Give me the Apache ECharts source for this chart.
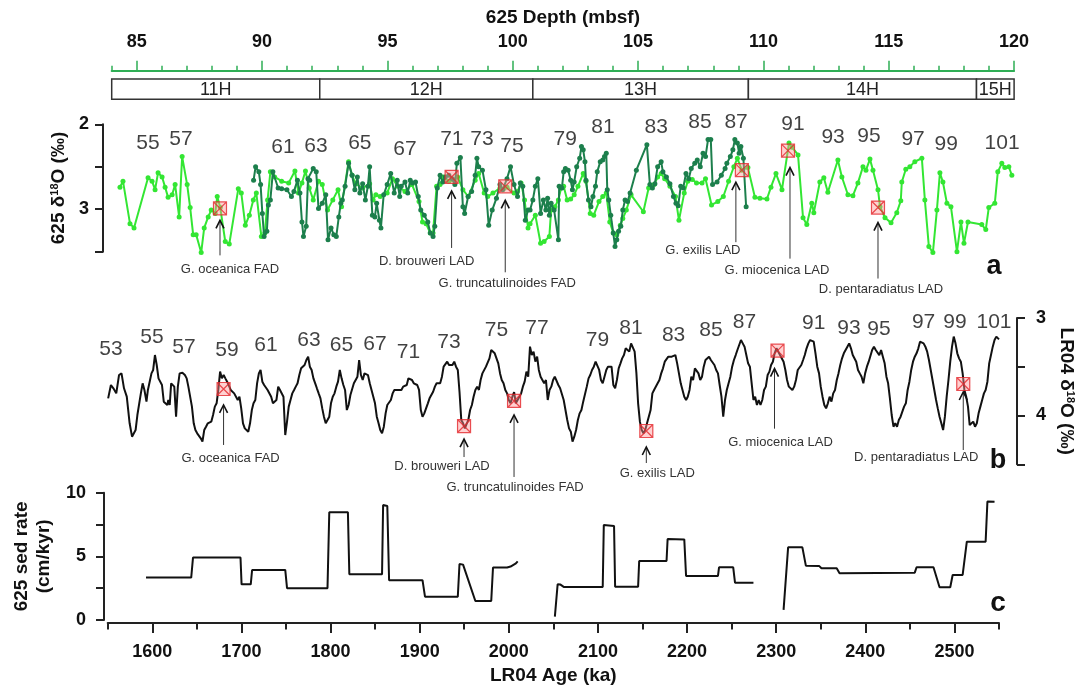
<!DOCTYPE html>
<html>
<head>
<meta charset="utf-8">
<title>625 depth / LR04 age</title>
<script src="https://cdn.jsdelivr.net/npm/echarts@6/dist/echarts.min.js"></script>
<style>
html, body { margin: 0; padding: 0; background: #fff; }
#chart { width: 1086px; height: 691px; }
</style>
</head>
<body>
<div id="chart"></div>
<script>
// ---- data ----
// core sections (depth, mbsf)
const coreStart = [84, 92.3, 100.8, 109.4, 118.5];
const coreEnd   = [92.3, 100.8, 109.4, 118.5, 120];
const coreName  = ['11H', '12H', '13H', '14H', '15H'];

// 625 d18O, light green record [depth, d18O]
const d18oLight = [
  [84.33,2.74],[84.45,2.67],[84.73,3.17],[84.89,3.22],[85.45,2.63],[85.61,2.67],[85.73,2.77],[85.85,2.57],
  [86.01,2.62],[86.13,2.74],[86.25,2.86],[86.41,2.83],[86.53,2.71],[86.69,3.09],[86.81,2.38],[87.01,2.71],
  [87.13,2.98],[87.25,3.30],[87.37,3.30],[87.57,3.51],[87.69,3.22],[87.85,3.09],[87.97,3.01],[88.13,3.05],
  [88.21,2.85],[88.33,2.98],[88.53,3.38],[88.69,3.41],[89.05,2.76],[89.17,2.81],[89.33,3.19],[89.49,3.07],
  [89.65,2.89],[89.77,2.81],
  [89.97,3.32],[90.11,3.28],[90.22,2.89],[90.33,2.56],[90.50,2.62],[90.78,2.67],[91.06,2.69],[91.31,2.55],
  [91.45,2.81],[91.59,2.69],[91.73,2.55],[91.88,2.75],[92.04,2.89],[92.25,2.67],[92.40,2.71],[92.61,3.01],
  [92.82,2.89],[93.03,2.77],[93.17,2.97],[93.45,2.44],[93.59,2.60],[93.73,2.70],[94.01,2.75],[94.29,2.70],
  [94.43,2.89],[94.54,2.83],[94.71,2.85],[94.99,2.81],[95.20,2.64],[95.42,2.73],[95.70,2.79],[95.98,2.71],
  [96.26,2.91],[96.40,3.15],[96.54,3.17],[96.71,3.28],[96.82,3.28],[96.96,2.73],[97.10,2.71],[97.24,2.62],
  [97.45,2.67],[97.66,2.66],[97.80,2.62],[98.01,2.77],[98.22,2.85],[98.50,2.66],[98.64,2.58],[98.86,2.81],
  [99.00,2.85],[99.21,2.81],[99.49,2.75],[99.63,2.76],[99.77,2.74],[100.05,2.81],[100.19,2.79],[100.33,2.69],
  [100.47,2.89],[100.61,3.22],
  [100.69,3.17],[100.90,3.07],[101.11,3.40],[101.25,3.38],[101.46,3.32],[101.53,3.01],[101.68,2.97],[101.82,2.89],
  [101.93,2.75],[102.03,2.73],[102.17,2.89],[102.31,2.88],[102.45,2.83],[102.60,2.73],[102.81,2.58],[102.92,2.67],
  [103.09,3.05],[103.23,3.07],[103.44,2.91],[103.59,2.85],[103.73,2.81],[103.87,3.15],[104.01,3.28],[104.15,3.30],
  [104.29,3.19],[104.39,3.11],[104.53,3.01],[104.72,2.83],[105.21,3.03],[105.42,2.75],[105.64,2.71],[105.78,2.62],
  [105.92,2.58],[106.06,2.64],[106.27,2.73],[106.49,2.85],[106.63,3.13],[106.84,2.81],[106.98,2.67],[107.16,2.65],
  [107.33,2.69],[107.55,2.69],[107.69,2.64],[107.93,2.95],[108.18,2.91],[108.40,2.85],[108.61,2.67],[108.82,2.50],
  [108.96,2.40],
  [109.14,2.54],[109.38,2.51],[109.66,2.86],[109.86,2.87],[110.14,2.88],[110.30,2.74],[110.50,2.58],[110.74,2.77],
  [111.02,2.22],[111.14,2.27],[111.38,2.36],[111.58,3.10],[111.73,3.18],[111.93,2.93],[112.01,3.04],[112.25,2.68],
  [112.41,2.63],[112.57,2.80],[112.97,2.42],[113.13,2.62],[113.37,2.83],[113.57,2.84],[113.77,2.69],[113.97,2.50],
  [114.09,2.54],[114.25,2.41],[114.37,2.54],[114.57,2.77],[114.65,2.97],[114.85,3.10],[115.09,3.16],[115.32,3.04],
  [115.48,2.90],[115.52,2.68],[115.68,2.53],[115.84,2.50],[116.04,2.44],[116.32,2.40],[116.44,2.89],[116.60,3.44],
  [116.76,3.51],[116.92,3.01],[117.04,2.57],[117.16,2.68],[117.32,2.93],[117.48,2.97],[117.72,3.50],[117.88,3.15],
  [118.00,3.40],[118.16,3.15],[118.71,3.18],[118.87,3.24],[118.99,2.98],[119.23,2.93],[119.35,2.56],[119.51,2.46],
  [119.63,2.51],[119.79,2.50],[119.91,2.60]
];

// 625 d18O, dark green record [depth, d18O]
const d18oDark = [
  [89.66,2.66],[89.74,2.50],[89.87,2.56],[89.94,2.71],[90.01,3.05],[90.08,3.32],[90.19,3.26],[90.25,2.95],
  [90.33,2.89],[90.43,2.56],[90.64,2.75],[90.78,2.76],[90.99,2.77],[91.17,2.85],[91.27,2.79],[91.41,2.66],
  [91.51,2.81],[91.59,3.15],[91.65,3.32],[91.76,3.20],[91.83,2.64],[91.90,2.66],[92.04,2.52],[92.16,2.56],
  [92.25,2.99],[92.40,2.93],[92.54,2.83],[92.63,3.36],[92.75,3.22],[92.86,3.30],[92.96,3.32],[93.06,3.09],
  [93.14,2.93],[93.20,2.89],[93.31,2.73],[93.45,2.46],[93.59,2.60],[93.70,2.77],[93.80,2.62],[93.90,2.81],
  [94.01,2.70],[94.12,2.89],[94.22,2.73],[94.29,2.50],[94.40,3.07],[94.50,3.09],[94.57,2.93],[94.68,3.13],
  [94.74,3.22],[94.85,2.83],[94.99,2.71],[95.13,2.58],[95.27,2.81],[95.39,2.66],[95.49,2.85],[95.55,2.73],
  [95.70,2.68],[95.81,2.81],[95.91,2.66],[96.00,2.69],[96.12,2.68],[96.23,2.85],[96.33,3.01],[96.47,3.07],
  [96.61,3.15],[96.71,3.28],[96.82,3.32],[96.89,3.20],[96.99,2.75],[97.10,2.60],[97.21,2.68],[97.31,2.62],
  [97.45,2.60],[97.59,2.64],[97.69,2.71],[97.77,2.46],[97.91,2.39],[98.01,2.97],[98.08,3.05],[98.22,2.85],
  [98.36,2.79],[98.50,2.60],[98.57,2.40],[98.64,2.50],[98.79,2.54],[98.93,2.77],[99.04,3.19],[99.18,3.01],
  [99.35,2.87],[99.49,2.71],[99.60,2.77],[99.77,2.64],[99.91,2.50],[100.05,2.71],[100.19,2.85],[100.30,2.69],
  [100.40,2.73],[100.50,3.13],[100.61,3.01],
  [100.69,3.01],[100.80,2.89],[100.90,2.73],[101.00,2.64],[101.11,3.05],[101.22,2.89],[101.32,3.01],[101.39,2.87],
  [101.46,3.07],[101.53,2.93],[101.65,3.01],[101.82,3.36],[101.85,2.73],[101.96,2.75],[102.03,2.56],[102.10,2.52],
  [102.21,2.54],[102.31,2.66],[102.38,2.77],[102.45,2.68],[102.55,2.50],[102.67,2.40],[102.74,2.26],[102.81,2.30],
  [102.88,2.44],[102.92,2.66],[103.02,2.89],[103.12,2.97],[103.20,2.85],[103.30,2.73],[103.37,2.56],[103.49,2.44],
  [103.59,2.42],[103.66,2.38],[103.73,2.34],[103.77,2.77],[103.83,2.89],[103.91,3.07],[104.01,3.28],[104.08,3.44],
  [104.15,3.36],[104.22,3.26],[104.31,3.20],[104.39,3.01],[104.48,2.89],[104.58,2.91],[104.68,2.81],[104.93,2.54],
  [105.35,2.24],[105.47,2.71],[105.57,2.75],[105.67,2.70],[105.78,2.50],[105.92,2.44],[105.99,2.56],[106.13,2.62],
  [106.27,2.70],[106.41,2.85],[106.51,2.93],[106.60,2.96],[106.70,2.73],[106.80,2.75],[106.91,2.58],[107.02,2.64],
  [107.12,2.52],[107.26,2.46],[107.36,2.42],[107.48,2.50],[107.59,2.34],[107.69,2.38],[107.79,2.18],[107.90,2.18],
  [107.97,2.71],[108.15,2.68],[108.32,2.60],[108.47,2.52],[108.54,2.46],[108.68,2.38],[108.78,2.30],[108.86,2.18],
  [108.96,2.22],[109.03,2.34],[109.10,2.26],[109.20,2.40],[109.31,2.97]
];

// LR04 stack [age ka, d18O]
const lr04 = [
  [1550.5,3.824],[1553.6,3.687],[1556.4,3.721],[1559.6,3.773],[1562.7,3.585],[1565.5,3.568],[1568.3,3.721],[1571.4,3.807],
  [1574.6,4.080],[1577.3,4.217],[1579.3,4.234],[1581.3,4.149],[1583.3,3.995],[1585.2,3.978],[1587.2,3.773],[1589.2,3.670],
  [1591.2,3.738],[1593.5,3.858],[1595.1,3.738],[1597.1,3.653],[1599.1,3.568],[1601.0,3.533],[1603.0,3.380],[1605.0,3.482],
  [1607.0,3.619],[1608.9,3.636],[1610.9,3.687],[1612.9,3.858],[1614.9,3.841],[1616.9,3.892],[1618.0,3.841],[1619.6,3.892],
  [1621.2,3.670],[1622.8,3.653],[1624.7,3.704],[1626.7,4.012],[1628.7,3.704],[1630.7,3.568],[1633.8,3.561],[1636.6,3.585],
  [1638.6,3.619],[1640.5,3.704],[1642.5,3.807],[1644.5,3.909],[1646.5,4.080],[1648.4,4.149],[1650.4,4.183],[1652.4,4.166],
  [1654.4,4.234],[1656.3,4.268],[1658.3,4.149],[1660.3,4.115],[1662.3,4.080],[1664.2,4.098],[1666.2,4.063],[1668.2,3.995],
  [1670.2,3.909],[1672.2,3.875],[1674.1,3.738],[1676.1,3.550],[1678.1,3.619],[1680.1,3.585],[1682.0,3.619],[1684.0,3.653],
  [1686.0,3.670],[1688.0,3.738],[1689.9,3.721],[1691.9,3.773],[1693.9,3.790],[1695.9,3.841],[1697.8,3.807],[1699.8,3.927],
  [1701.8,4.080],[1703.8,4.132],[1705.7,4.115],[1707.7,4.166],[1709.7,4.080],[1711.7,3.944],[1713.6,3.875],[1715.6,3.841],
  [1717.6,3.670],[1719.6,3.568],[1721.5,3.533],[1723.5,3.653],[1725.5,3.687],[1727.5,3.704],[1729.4,3.738],[1731.4,3.721],
  [1733.4,3.807],[1735.4,3.875],[1737.3,3.892],[1739.3,3.841],[1741.3,3.704],[1743.3,3.738],[1745.2,3.738],[1747.2,3.807],
  [1749.2,4.200],[1751.2,4.063],[1753.1,3.909],[1755.1,3.841],[1757.1,3.773],[1759.1,3.738],[1761.0,3.704],[1763.0,3.670],
  [1765.0,3.585],[1767.0,3.516],[1768.9,3.516],[1770.9,3.482],[1772.9,3.431],[1774.9,3.397],[1776.8,3.499],[1778.8,3.533],
  [1780.8,3.619],[1782.8,3.670],[1784.7,3.721],[1786.7,3.773],[1788.7,3.824],[1790.7,3.927],[1792.6,4.012],[1794.6,4.080],
  [1796.6,4.098],[1798.6,4.012],[1800.5,3.875],[1802.5,3.807],[1804.5,3.773],[1806.5,3.704],[1808.4,3.653],[1810.4,3.533],
  [1812.4,3.619],[1814.4,3.687],[1816.3,3.738],[1818.3,3.944],[1820.3,3.892],[1822.3,3.790],[1824.2,3.773],[1826.2,3.670],
  [1828.2,3.653],[1830.2,3.602],[1832.1,3.431],[1834.1,3.585],[1836.1,3.636],[1838.1,3.568],[1840.0,3.568],[1842.0,3.585],
  [1844.0,3.670],[1846.0,3.738],[1847.9,3.756],[1849.9,3.875],[1851.9,4.012],[1853.9,4.080],[1855.8,4.149],[1857.8,4.183],
  [1859.8,4.115],[1861.8,3.978],[1863.7,3.892],[1865.7,3.892],[1867.7,3.841],[1869.7,3.773],[1871.6,3.738],[1873.6,3.756],
  [1875.6,3.738],[1877.6,3.721],[1879.5,3.738],[1881.5,3.704],[1883.5,3.704],[1885.5,3.687],[1887.4,3.619],[1889.4,3.602],
  [1891.4,3.636],[1893.4,3.670],[1895.3,3.653],[1897.3,3.687],[1899.3,3.738],[1901.3,3.944],[1903.2,4.012],[1905.2,3.978],
  [1907.2,3.995],[1909.2,3.875],[1911.1,3.824],[1913.1,3.807],[1915.1,3.756],[1917.1,3.704],[1919.0,3.670],[1921.0,3.653],
  [1923.0,3.670],[1925.0,3.602],[1926.9,3.499],[1928.9,3.482],[1930.9,3.448],[1932.9,3.482],[1934.9,3.465],[1936.8,3.482],
  [1938.8,3.448],[1940.8,3.499],[1942.8,3.533],[1944.7,3.756],[1946.7,4.046],[1948.7,4.080],[1950.7,4.132],[1952.6,4.115],
  [1954.6,4.046],[1956.6,3.944],[1958.6,3.892],[1960.5,3.807],[1962.5,3.738],[1964.5,3.704],[1966.5,3.738],[1968.4,3.636],
  [1970.4,3.568],[1972.4,3.550],[1974.4,3.499],[1976.3,3.499],[1978.3,3.414],[1980.3,3.328],[1982.3,3.345],[1984.2,3.362],
  [1986.2,3.380],[1988.2,3.465],[1990.2,3.568],[1992.1,3.636],[1994.1,3.670],[1996.1,3.738],[1998.1,3.773],[2000.0,3.841],
  [2002.0,3.875],[2004.0,3.807],[2006.0,3.760],[2007.9,3.875],[2009.9,3.841],[2011.9,3.807],[2013.9,3.773],[2015.8,3.704],
  [2017.8,3.653],[2019.8,3.550],[2021.8,3.602],
  [2023.8,3.294],[2025.8,3.380],[2027.8,3.345],[2029.8,3.448],[2031.8,3.397],[2033.7,3.533],[2035.7,3.602],[2037.7,3.619],
  [2039.7,3.670],[2041.7,3.636],[2043.7,3.841],[2045.7,3.738],[2047.7,3.704],[2049.7,3.636],[2051.6,3.602],[2053.6,3.619],
  [2055.6,3.687],[2057.6,3.721],[2059.6,3.738],[2061.6,3.841],[2063.6,3.944],[2065.6,4.046],[2067.6,4.132],[2069.6,4.166],
  [2071.5,4.268],[2073.5,4.217],[2075.5,4.149],[2077.5,4.046],[2079.5,3.978],[2081.5,3.944],[2083.5,3.858],[2085.5,3.841],
  [2087.5,3.704],[2089.5,3.619],[2091.4,3.585],[2093.4,3.533],[2095.4,3.499],[2097.4,3.448],[2099.4,3.431],[2101.4,3.533],
  [2103.4,3.636],[2105.4,3.670],[2107.4,3.653],[2109.4,3.533],[2111.3,3.499],[2113.3,3.516],[2115.3,3.499],[2117.3,3.687],
  [2119.3,3.721],[2121.3,3.636],[2123.3,3.516],[2125.3,3.465],[2127.2,3.414],[2129.2,3.380],[2131.2,3.311],[2133.2,3.328],
  [2135.2,3.345],[2137.2,3.260],[2139.2,3.243],[2141.2,3.345],[2143.2,3.568],[2145.1,3.875],[2147.1,4.063],[2149.1,4.149],
  [2151.1,4.183],[2153.1,4.149],[2155.1,4.080],[2157.1,4.098],[2159.1,3.944],[2161.1,3.773],[2163.0,3.738],[2165.0,3.721],
  [2167.0,3.670],[2169.0,3.636],[2171.0,3.568],[2173.0,3.516],[2175.0,3.448],[2177.0,3.431],[2179.0,3.397],[2180.9,3.380],
  [2182.9,3.397],[2184.9,3.397],[2186.9,3.380],[2188.9,3.465],[2190.9,3.568],[2192.9,3.670],[2194.9,3.738],[2196.9,3.807],
  [2198.9,3.841],[2200.8,3.807],[2202.8,3.738],[2204.8,3.602],[2206.8,3.636],[2208.8,3.516],[2210.8,3.533],[2212.8,3.568],
  [2214.8,3.636],[2216.8,3.602],[2218.7,3.499],[2220.7,3.431],[2222.7,3.414],[2224.7,3.397],[2226.7,3.431],[2228.7,3.448],
  [2230.7,3.482],[2232.7,3.533],[2234.7,3.568],[2236.6,3.687],[2238.6,3.807],[2240.6,4.012],[2242.6,3.841],[2244.6,3.738],
  [2246.6,3.670],[2248.6,3.602],[2250.6,3.499],[2252.6,3.431],[2254.6,3.380],[2256.5,3.328],[2258.5,3.277],[2260.5,3.226],
  [2262.5,3.260],[2264.5,3.294],[2266.5,3.380],[2268.5,3.465],[2270.5,3.499],[2272.5,3.670],[2274.5,3.841],[2276.4,3.807],
  [2278.4,3.892],[2280.4,3.841],[2282.4,3.892],[2284.4,3.841],[2286.4,3.738],[2288.4,3.704],[2290.4,3.585],[2292.4,3.550],
  [2294.3,3.482],[2296.3,3.448],[2298.3,3.362],[2300.3,3.311],[2302.3,3.328],[2304.3,3.380],[2306.3,3.397],[2308.3,3.448],
  [2310.3,3.533],[2312.2,3.636],[2314.2,3.704],[2316.2,3.721],[2318.2,3.738],[2320.2,3.704],[2322.2,3.636],[2324.2,3.533],
  [2326.2,3.533],[2328.2,3.482],[2330.2,3.431],[2332.1,3.380],[2334.1,3.311],[2336.1,3.260],[2338.1,3.226],[2340.1,3.243],
  [2342.1,3.243],[2344.1,3.362],[2346.1,3.499],[2348.1,3.568],[2350.0,3.704],[2352.0,3.807],[2354.0,3.892],[2356.0,3.927],
  [2358.0,3.875],[2360.0,3.807],[2362.0,3.858],[2364.0,3.773],[2366.0,3.738],[2368.0,3.636],[2369.9,3.568],[2371.9,3.482],
  [2373.9,3.414],[2375.9,3.362],[2377.9,3.345],[2379.9,3.294],[2381.9,3.260],[2383.9,3.311],[2385.9,3.380],[2387.8,3.380],
  [2389.8,3.448],[2391.8,3.533],[2393.8,3.568],[2395.8,3.602],[2397.8,3.670],[2399.8,3.568],[2401.8,3.499],[2403.8,3.448],
  [2405.7,3.465],[2407.7,3.328],[2409.7,3.294],[2411.7,3.328],[2413.7,3.345],[2415.7,3.380],[2417.7,3.328],[2419.7,3.397],
  [2421.7,3.465],[2423.7,3.602],[2425.6,3.670],[2427.6,3.824],[2429.6,3.995],[2431.6,4.115],[2433.6,4.080],[2435.6,4.115],
  [2437.6,4.046],[2439.6,4.012],[2441.6,3.995],[2443.5,3.909],[2445.5,3.875],[2447.5,3.738],[2449.5,3.653],[2451.5,3.533],
  [2453.5,3.448],[2455.5,3.397],[2457.5,3.362],[2459.5,3.311],[2461.4,3.243],[2463.4,3.226],[2465.4,3.260],[2467.4,3.294],
  [2469.4,3.345],[2471.4,3.431],[2473.4,3.533],[2475.4,3.636],[2477.4,3.738],[2479.4,3.841],[2481.3,3.927],[2483.3,4.012],
  [2485.3,4.080],[2487.3,4.149],[2489.3,4.012],[2491.3,3.807],[2493.3,3.636],[2495.3,3.448],[2497.3,3.294],[2499.2,3.191],
  [2501.2,3.260],[2503.2,3.362],[2505.2,3.414],[2507.2,3.448],[2509.2,3.568],[2511.2,3.738],[2513.2,3.807],[2515.2,3.909],
  [2517.1,4.098],[2519.1,4.115],[2521.1,4.063],[2523.1,4.115],[2525.1,4.080],[2527.1,3.978],[2529.1,3.909],[2531.1,3.841],
  [2533.1,3.773],[2535.0,3.738],[2537.0,3.653],[2539.0,3.465],[2541.0,3.380],[2543.0,3.294],[2545.0,3.226],[2547.0,3.191],
  [2549.0,3.209],[2550.0,3.219]
];

// 625 sedimentation rate [age ka, cm/kyr]; null = gap
const sedRate = [
  [1593,3.33],[1643.7,3.33],[1645.7,4.9],[1699,4.9],[1700.2,2.8],[1710.5,2.8],[1712,3.93],[1749.2,3.93],
  [1751.2,2.5],[1796.6,2.5],[1798.6,8.46],[1819.5,8.46],[1821.1,3.6],[1857.8,3.6],[1859,9.03],[1863.7,8.95],
  [1865.7,3.13],[1903.2,3.13],[1906,1.83],[1942.8,1.83],[1944.7,4.4],[1948.7,4.35],[1962.5,1.49],[1980.3,1.49],
  [1982.3,4.12],[1998.1,4.12],[2002,4.2],[2008,4.45],[2010,4.6],
  [2030,null],
  [2051.7,0.26],[2054.8,2.8],[2058,2.78],[2061.6,2.6],[2105.4,2.6],[2106.6,7.46],[2118.1,7.38],[2119.3,2.62],
  [2145.1,2.62],[2146.3,4.63],[2177,4.63],[2178.2,6.36],[2196.9,6.33],[2198.9,3.46],[2234.7,3.46],[2235.9,4.14],
  [2251.8,4.14],[2253.8,2.93],[2274.5,2.93],
  [2290,null],
  [2308.3,0.79],[2313.4,5.71],[2329.4,5.71],[2333.3,4.27],[2348.1,4.25],[2350.8,4.06],[2367.9,4.06],[2371.1,3.67],
  [2455.5,3.72],[2457.5,4.14],[2476.5,4.14],[2483.3,2.57],[2495.3,2.57],[2498,3.54],[2509.2,3.54],[2513.9,6.15],
  [2535,6.15],[2537,9.3],[2545,9.28]
];

// marine isotope stage labels [x, d18O, stage]
const misA = [
  [85.45,2.22,55],[86.76,2.17,57],[90.83,2.27,61],[92.15,2.26,63],[93.90,2.22,65],[95.70,2.29,67],[97.57,2.17,71],
  [98.77,2.17,73],[99.97,2.26,75],[102.09,2.17,79],[103.60,2.04,81],[105.72,2.03,83],[107.47,1.98,85],[108.91,1.98,87],
  [111.18,2.00,91],[112.78,2.15,93],[114.21,2.14,95],[115.97,2.17,97],[117.29,2.24,99],[119.52,2.22,101]
];
const misB = [
  [1553.7,3.321,53],[1599.7,3.198,55],[1635.6,3.301,57],[1683.9,3.328,59],[1727.6,3.277,61],[1775.9,3.226,63],
  [1812.3,3.277,65],[1849.9,3.267,67],[1887.4,3.346,71],[1932.9,3.253,73],[1986.2,3.130,75],[2031.7,3.106,77],
  [2099.4,3.226,79],[2137.1,3.106,81],[2184.9,3.174,83],[2226.9,3.123,85],[2264.5,3.038,87],[2342.1,3.054,91],
  [2381.7,3.106,93],[2415.4,3.116,95],[2465.4,3.038,97],[2500.6,3.038,99],[2544.4,3.038,101]
];

// biostratigraphic datums
const eventName = ['G. oceanica FAD', 'D. brouweri LAD', 'G. truncatulinoides FAD',
                   'G. exilis LAD', 'G. miocenica LAD', 'D. pentaradiatus LAD'];
const eventsA = [[88.32,2.99],[97.56,2.62],[99.70,2.73],[109.14,2.54],[110.98,2.31],[114.57,2.98]];
const eventsB = [[1680.0,3.728],[1949.8,4.108],[2005.9,3.851],[2154.3,4.159],[2301.5,3.335],[2509.9,3.677]];

// tick label values
const depthTicks = [85, 90, 95, 100, 105, 110, 115, 120];
const ageTicks = [1600, 1700, 1800, 1900, 2000, 2100, 2200, 2300, 2400, 2500];

// ---- layout / style ----
const FONT = '"Liberation Sans", Arial, Helvetica, sans-serif';
const INK = '#111';
const GREEN_AXIS = '#2fae55';
// per datum: [arrow tip dy, arrow tail dy, label dx, label dy, arrow dx] in px from the box
const arrowA = [[12,47,10,61,0],[14,71,-25,84,0],[14,86,2,97,0],[12,72,-39,80,-6],[17,108,-11,120,2],[15,71,3,82,0]];
const arrowB = [[16,56,7,69,0],[13,31,-22,40,0],[14,76,1,86,0],[16,32,11,42,0],[18,78,3,92,-3],[8,66,-47,73,0]];
const BOX = 'path://M0,0H12V12H0Z M0,0L12,12 M12,0L0,12';

const chart = echarts.init(document.getElementById('chart'));

const tickLabel = { fontFamily: FONT, fontSize: 18, fontWeight: 'bold', color: INK };
const nameStyle = { fontFamily: FONT, fontSize: 19, fontWeight: 'bold', color: INK };
const blackLine = { lineStyle: { color: '#222', width: 2 } };
const plain = v => String(v);

function arrowRender(layout) {
  return function (params, api) {
    const c = api.coord([api.value(0), api.value(1)]);
    const L = layout[params.dataIndex];
    const x = c[0] + L[4];
    const yTip = c[1] + L[0];
    const yTail = c[1] + L[1];
    return {
      type: 'group',
      children: [
        { type: 'line', shape: { x1: x, y1: yTail, x2: x, y2: yTip + 1 }, style: { stroke: '#333', lineWidth: 1 } },
        { type: 'polyline', shape: { points: [[x - 4, yTip + 8], [x, yTip], [x + 4, yTip + 8]] },
          style: { stroke: '#111', lineWidth: 1.6, fill: null } },
        { type: 'text', style: { text: eventName[params.dataIndex], x: c[0] + L[2], y: c[1] + L[3],
          align: 'center', verticalAlign: 'middle', fontFamily: FONT, fontSize: 13, fill: '#333' } }
      ]
    };
  };
}

function misSeries(data, xi, yi) {
  return {
    type: 'scatter', xAxisIndex: xi, yAxisIndex: yi, data: data, clip: false,
    symbolSize: 1, itemStyle: { color: 'transparent' }, z: 5,
    label: { show: true, position: 'inside', formatter: p => String(p.data[2]),
      fontFamily: FONT, fontSize: 21, color: INK }
  };
}

function boxSeries(data, xi, yi) {
  return {
    type: 'scatter', xAxisIndex: xi, yAxisIndex: yi, data: data, clip: false, z: 6,
    symbol: BOX, symbolSize: 13,
    itemStyle: { color: 'rgba(255,150,150,0.55)', borderColor: '#e3262b', borderWidth: 1.2 }
  };
}

chart.setOption({
  animation: false,
  backgroundColor: '#fff',
  grid: [
    { left: 111.7, right: 71.9, top: 79, height: 20.3 },
    { left: 111.7, right: 71.9, top: 124.3, height: 127.4 },
    { left: 107.7, right: 87, top: 318, height: 146.25 },
    { left: 107.7, right: 87, top: 492.7, height: 127.3 }
  ],
  xAxis: [
    { // 625 depth, minor ticks + labels
      gridIndex: 0, type: 'value', position: 'top', offset: 8.3, min: 84, max: 120, interval: 1,
      axisLine: { onZero: false, lineStyle: { color: GREEN_AXIS, width: 2 } },
      axisTick: { length: 5, lineStyle: { color: GREEN_AXIS, width: 1.5 } },
      axisLabel: Object.assign({ margin: 20, customValues: depthTicks, formatter: plain }, tickLabel),
      splitLine: { show: false },
      name: '625 Depth (mbsf)', nameLocation: 'middle', nameGap: 43, nameTextStyle: nameStyle
    },
    { // 625 depth, major ticks
      gridIndex: 0, type: 'value', position: 'top', offset: 8.3, min: 84, max: 120,
      axisLine: { show: false, onZero: false },
      axisTick: { show: true, length: 10, customValues: depthTicks,
        lineStyle: { color: GREEN_AXIS, width: 1.5 } },
      axisLabel: { show: false }, splitLine: { show: false }
    },
    { gridIndex: 1, type: 'value', min: 84, max: 120, show: false },
    { gridIndex: 2, type: 'value', min: 1550, max: 2550, show: false },
    { // LR04 age
      gridIndex: 3, type: 'value', position: 'bottom', offset: 3, min: 1550, max: 2550, interval: 50,
      axisLine: { onZero: false, lineStyle: { color: '#222', width: 2 } },
      axisTick: { length: 6.5, lineStyle: { color: '#222', width: 2 } },
      axisLabel: Object.assign({ margin: 20, customValues: ageTicks, formatter: plain }, tickLabel),
      splitLine: { show: false },
      name: 'LR04 Age (ka)', nameLocation: 'middle', nameGap: 43, nameTextStyle: nameStyle
    },
    {
      gridIndex: 3, type: 'value', position: 'bottom', offset: 3, min: 1550, max: 2550,
      axisLine: { show: false, onZero: false },
      axisTick: { show: true, length: 10, customValues: ageTicks,
        lineStyle: { color: '#222', width: 2 } },
      axisLabel: { show: false }, splitLine: { show: false }
    }
  ],
  yAxis: [
    { gridIndex: 0, type: 'value', min: 0, max: 1, show: false },
    { // 625 d18O
      gridIndex: 1, type: 'value', position: 'left', offset: 8.7, min: 2, max: 3.5, interval: 0.5, inverse: true,
      axisLine: Object.assign({ show: true, onZero: false }, blackLine),
      axisTick: { show: true, length: 8, lineStyle: { color: '#222', width: 2 } },
      axisLabel: Object.assign({ margin: 14, formatter: v => (v === 2 || v === 3) ? String(v) : '' }, tickLabel),
      splitLine: { show: false },
      name: '625 {d|δ}{s|18}O (‰)', nameLocation: 'middle', nameGap: 30,
      nameTextStyle: Object.assign({}, nameStyle, { rich: {
        d: { fontFamily: FONT, fontSize: 19, color: INK },
        s: { fontFamily: FONT, fontSize: 11, color: INK, verticalAlign: 'top', lineHeight: 14 }
      } })
    },
    { // LR04 d18O
      gridIndex: 2, type: 'value', position: 'right', offset: 18, min: 3, max: 4.5, interval: 0.5, inverse: true,
      axisLine: Object.assign({ show: true, onZero: false }, blackLine),
      axisTick: { show: true, length: 8, lineStyle: { color: '#222', width: 2 } },
      axisLabel: Object.assign({ margin: 19, formatter: v => (v === 3 || v === 4) ? String(v) : '' }, tickLabel),
      splitLine: { show: false },
      name: 'LR04 {d|δ}{s|18}O (‰)', nameLocation: 'middle', nameGap: 34, nameRotate: -90,
      nameTextStyle: Object.assign({}, nameStyle, { rich: {
        d: { fontFamily: FONT, fontSize: 19, color: INK },
        s: { fontFamily: FONT, fontSize: 11, color: INK, verticalAlign: 'top', lineHeight: 14 }
      } })
    },
    { // sed rate
      gridIndex: 3, type: 'value', position: 'left', offset: 3.7, min: 0, max: 10, interval: 2.5,
      axisLine: Object.assign({ show: true, onZero: false }, blackLine),
      axisTick: { show: true, length: 8, lineStyle: { color: '#222', width: 2 } },
      axisLabel: Object.assign({ margin: 18, formatter: v => (v % 5 === 0) ? String(v) : '' }, tickLabel),
      splitLine: { show: false },
      name: '625 sed rate\n(cm/kyr)', nameLocation: 'middle', nameGap: 38,
      nameTextStyle: Object.assign({ lineHeight: 22 }, nameStyle)
    }
  ],
  series: [
    {
      type: 'custom', xAxisIndex: 0, yAxisIndex: 0,
      data: coreStart.map((s, i) => [s, coreEnd[i]]),
      renderItem: function (params, api) {
        const p0 = api.coord([api.value(0), 1]);
        const p1 = api.coord([api.value(1), 0]);
        return {
          type: 'group',
          children: [
            { type: 'rect', shape: { x: p0[0], y: p0[1], width: p1[0] - p0[0], height: p1[1] - p0[1] },
              style: { fill: '#fff', stroke: '#333', lineWidth: 1.5 } },
            { type: 'text', style: { text: coreName[params.dataIndex], x: (p0[0] + p1[0]) / 2, y: (p0[1] + p1[1]) / 2 + 1,
              align: 'center', verticalAlign: 'middle', fontFamily: FONT, fontSize: 18, fill: '#222' } }
          ]
        };
      }
    },
    {
      name: '625 light', type: 'line', xAxisIndex: 2, yAxisIndex: 1, data: d18oLight, clip: false,
      symbol: 'circle', symbolSize: 5, showSymbol: true,
      lineStyle: { color: '#33e633', width: 2 }, itemStyle: { color: '#33e633' }, z: 2
    },
    {
      name: '625 dark', type: 'line', xAxisIndex: 2, yAxisIndex: 1, data: d18oDark, clip: false,
      symbol: 'circle', symbolSize: 5, showSymbol: true,
      lineStyle: { color: '#1c7f4c', width: 2 }, itemStyle: { color: '#1c7f4c' }, z: 3
    },
    misSeries(misA, 2, 1),
    boxSeries(eventsA, 2, 1),
    { type: 'custom', xAxisIndex: 2, yAxisIndex: 1, data: eventsA, renderItem: arrowRender(arrowA), z: 4 },
    {
      name: 'LR04', type: 'line', xAxisIndex: 3, yAxisIndex: 2, data: lr04, clip: false,
      showSymbol: false, lineStyle: { color: '#111', width: 2 }, z: 2
    },
    misSeries(misB, 3, 2),
    boxSeries(eventsB, 3, 2),
    { type: 'custom', xAxisIndex: 3, yAxisIndex: 2, data: eventsB, renderItem: arrowRender(arrowB), z: 4 },
    {
      name: 'sed rate', type: 'line', xAxisIndex: 4, yAxisIndex: 3, data: sedRate, clip: false,
      showSymbol: false, connectNulls: false, lineStyle: { color: '#111', width: 2 }
    }
  ],
  graphic: [
    { type: 'text', x: 994, y: 267, style: { text: 'a', align: 'center', verticalAlign: 'middle',
      font: 'bold 27px ' + FONT, fill: INK } },
    { type: 'text', x: 998, y: 461, style: { text: 'b', align: 'center', verticalAlign: 'middle',
      font: 'bold 27px ' + FONT, fill: INK } },
    { type: 'text', x: 998, y: 603, style: { text: 'c', align: 'center', verticalAlign: 'middle',
      font: 'bold 28px ' + FONT, fill: INK } }
  ]
});

window.addEventListener('resize', () => { chart.resize(); });
</script>
</body>
</html>
